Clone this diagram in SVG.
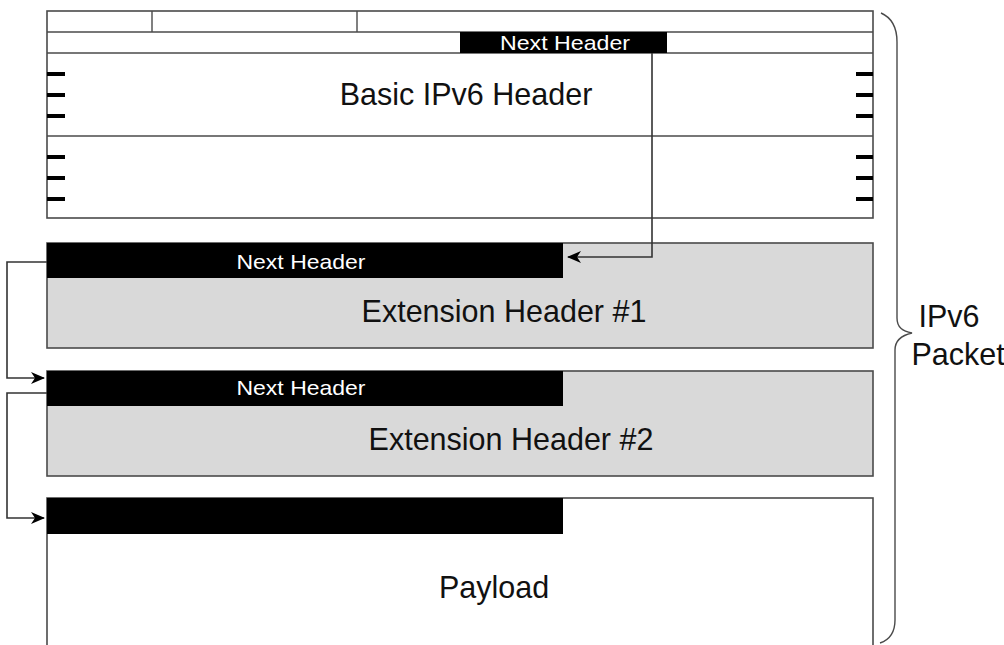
<svg xmlns="http://www.w3.org/2000/svg" width="1004" height="645" viewBox="0 0 1004 645">
<style>
.box{stroke:#4a4a4a;stroke-width:1.6;}
.thin{stroke:#4a4a4a;stroke-width:1.4;fill:none;}
.bar{fill:#000;}
.tick{stroke:#000;stroke-width:4;}
.big{font-family:"Liberation Sans",Arial,Helvetica,sans-serif;font-size:30.5px;fill:#111;text-anchor:middle;}
.nh{font-family:"Liberation Sans",Arial,Helvetica,sans-serif;font-size:21px;fill:#fff;text-anchor:middle;}
.conn{stroke:#333;stroke-width:1.6;fill:none;}
</style>
<defs>
<marker id="arr" viewBox="0 0 14 12" refX="13" refY="6" markerWidth="14" markerHeight="12" markerUnits="userSpaceOnUse" orient="auto">
<path d="M0,0 L14,6 L0,12 L4,6 Z" fill="#000"/>
</marker>
</defs>
<rect width="1004" height="645" fill="#fff"/>

<g id="basic-header">
<rect class="box" x="47" y="11" width="826" height="207" fill="#fff"/>
<line class="thin" x1="47" y1="32" x2="873" y2="32"/>
<line class="thin" x1="47" y1="53" x2="873" y2="53"/>
<line class="thin" x1="47" y1="136" x2="873" y2="136"/>
<line class="thin" x1="152" y1="11" x2="152" y2="32"/>
<line class="thin" x1="357" y1="11" x2="357" y2="32"/>
<rect class="bar" x="460" y="32" width="207" height="21"/>
<text class="nh" x="565" y="50" textLength="130" lengthAdjust="spacingAndGlyphs">Next Header</text>
<g class="tick">
<line x1="47" y1="74" x2="65" y2="74"/><line x1="47" y1="95" x2="65" y2="95"/><line x1="47" y1="116" x2="65" y2="116"/>
<line x1="47" y1="157" x2="65" y2="157"/><line x1="47" y1="178" x2="65" y2="178"/><line x1="47" y1="199" x2="65" y2="199"/>
<line x1="856" y1="74" x2="873" y2="74"/><line x1="856" y1="95" x2="873" y2="95"/><line x1="856" y1="116" x2="873" y2="116"/>
<line x1="856" y1="157" x2="873" y2="157"/><line x1="856" y1="178" x2="873" y2="178"/><line x1="856" y1="199" x2="873" y2="199"/>
</g>
<text class="big" x="466" y="105" font-size="31">Basic IPv6 Header</text>
</g>

<g id="ext-header-1">
<rect class="box" x="47" y="243" width="826" height="105" fill="#d9d9d9"/>
<rect class="bar" x="47" y="243" width="516" height="35"/>
<text class="nh" x="301" y="269" textLength="129" lengthAdjust="spacingAndGlyphs">Next Header</text>
<text class="big" x="504" y="322">Extension Header #1</text>
</g>

<g id="ext-header-2">
<rect class="box" x="47" y="371" width="826" height="105" fill="#d9d9d9"/>
<rect class="bar" x="47" y="371" width="516" height="35"/>
<text class="nh" x="301" y="395" textLength="129" lengthAdjust="spacingAndGlyphs">Next Header</text>
<text class="big" x="511" y="450">Extension Header #2</text>
</g>

<g id="payload">
<rect class="box" x="47" y="498" width="826" height="160" fill="#fff"/>
<rect class="bar" x="47" y="498" width="516" height="36"/>
<text class="big" x="494" y="598">Payload</text>
</g>

<g id="connectors">
<path class="conn" d="M652,53 L652,257 L568,257" marker-end="url(#arr)"/>
<path class="conn" d="M47,262 L7,262 L7,378 L44,378" marker-end="url(#arr)"/>
<path class="conn" d="M47,393 L7,393 L7,518 L44,518" marker-end="url(#arr)"/>
</g>

<g id="ipv6-packet">
<path class="thin" d="M881,13 Q897,20 897,42 L897,318 C897,328 903,331 912,333 C903,335 895,340 895,350 L895,620 Q895,638 880,643" stroke-width="1.8"/>
<text class="big" x="949" y="327" font-size="28">IPv6</text>
<text class="big" x="958" y="365" font-size="29">Packet</text>
</g>
</svg>
